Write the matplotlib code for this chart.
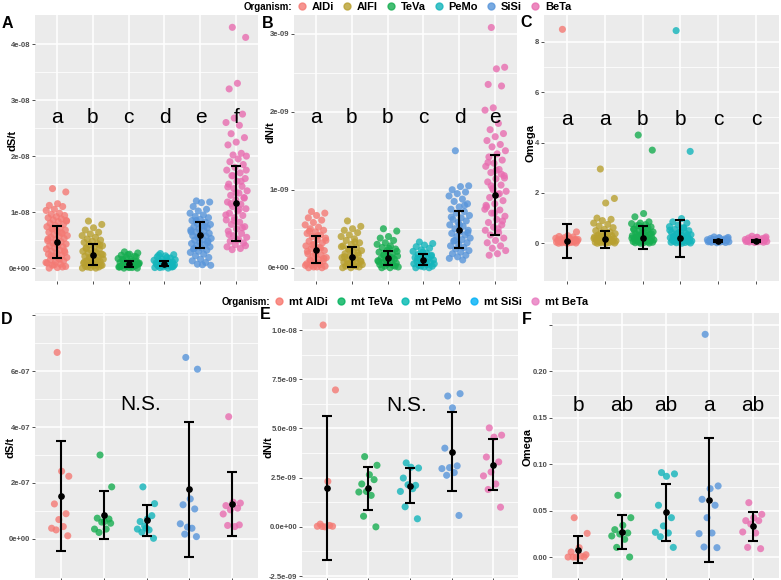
import matplotlib
matplotlib.use('Agg')
import matplotlib.pyplot as plt
from matplotlib.lines import Line2D
import numpy as np

plt.rcParams['font.family'] = ['Liberation Sans', 'DejaVu Sans']

# ---- top row (nuclear genes) ----
top_names = ['AlDi', 'AlFl', 'TeVa', 'PeMo', 'SiSi', 'BeTa']
top_colors = ['#F47A74', '#B8A030', '#16AD50', '#13B5BB', '#5895DA', '#E86DB0']

# dS/t, units of 1e-8
A_vals = [
    [1.42, 1.36, 1.15, 1.12, 1.10, 1.05, 1.03, 0.98, 0.96, 0.94, 0.92, 0.90, 0.88, 0.86, 0.84, 0.83, 0.80, 0.78,
     0.76, 0.74, 0.72, 0.70, 0.68, 0.66, 0.64, 0.62, 0.60, 0.58, 0.57, 0.55, 0.53, 0.51, 0.49, 0.47, 0.45, 0.43,
     0.41, 0.40, 0.38, 0.36, 0.34, 0.32, 0.30, 0.28, 0.27, 0.25, 0.23, 0.21, 0.19, 0.17, 0.15, 0.13, 0.11, 0.09,
     0.07, 0.05, 0.03, 0.01, 0.00, 0.02, 0.06, 0.10, 0.16, 0.22, 0.31, 0.44, 0.52, 0.63, 0.71, 0.85],
    [0.84, 0.78, 0.72, 0.68, 0.64, 0.61, 0.58, 0.55, 0.52, 0.50, 0.48, 0.46, 0.44, 0.42, 0.40, 0.38, 0.36, 0.34,
     0.32, 0.30, 0.28, 0.27, 0.25, 0.23, 0.21, 0.20, 0.18, 0.16, 0.15, 0.13, 0.12, 0.10, 0.09, 0.07, 0.06, 0.05,
     0.04, 0.03, 0.02, 0.01, 0.00, 0.00, 0.02, 0.05, 0.08, 0.11, 0.14, 0.19, 0.24, 0.29, 0.35, 0.41],
    [0.29, 0.27, 0.25, 0.23, 0.21, 0.19, 0.17, 0.15, 0.14, 0.12, 0.11, 0.10, 0.09, 0.08, 0.07, 0.06, 0.05, 0.04,
     0.03, 0.02, 0.01, 0.00, 0.00, 0.01, 0.03, 0.05, 0.07, 0.09, 0.12, 0.16, 0.20, 0.24, 0.02, 0.04, 0.06, 0.08],
    [0.26, 0.24, 0.22, 0.20, 0.18, 0.16, 0.14, 0.13, 0.12, 0.11, 0.10, 0.09, 0.08, 0.07, 0.06, 0.05, 0.04, 0.03,
     0.02, 0.01, 0.00, 0.01, 0.03, 0.05, 0.07, 0.09, 0.11, 0.15, 0.19, 0.23, 0.02, 0.06],
    [1.20, 1.18, 1.17, 1.10, 1.05, 1.02, 0.98, 0.95, 0.92, 0.90, 0.87, 0.85, 0.82, 0.80, 0.78, 0.76, 0.74, 0.72,
     0.70, 0.68, 0.66, 0.64, 0.62, 0.60, 0.58, 0.57, 0.55, 0.53, 0.51, 0.50, 0.48, 0.46, 0.44, 0.42, 0.40, 0.38,
     0.36, 0.34, 0.32, 0.30, 0.28, 0.25, 0.22, 0.19, 0.16, 0.13, 0.10, 0.07, 0.05, 0.06, 0.35, 0.45, 0.55, 0.65,
     0.75, 0.85],
    [4.30, 4.12, 3.30, 3.20, 2.75, 2.68, 2.60, 2.55, 2.40, 2.33, 2.25, 2.20, 2.05, 2.02, 2.00, 1.95, 1.90, 1.85,
     1.80, 1.75, 1.70, 1.65, 1.60, 1.55, 1.50, 1.46, 1.42, 1.38, 1.34, 1.30, 1.26, 1.22, 1.18, 1.14, 1.10, 1.06,
     1.02, 0.98, 0.94, 0.90, 0.86, 0.82, 0.78, 0.74, 0.70, 0.66, 0.62, 0.58, 0.55, 0.52, 0.48, 0.45, 0.42, 0.38,
     0.35, 0.33, 0.40, 0.50, 0.60, 0.72, 0.85, 0.95, 1.05, 1.15, 1.25, 1.35, 1.45, 1.55, 1.65, 1.75],
]
A_mean = [0.47, 0.24, 0.08, 0.08, 0.59, 1.16]
A_sd = [0.29, 0.19, 0.055, 0.04, 0.235, 0.67]
A_letters = ['a', 'b', 'c', 'd', 'e', 'f']

# dN/t, units of 1e-9
B_vals = [
    [0.72, 0.70, 0.67, 0.64, 0.61, 0.58, 0.55, 0.52, 0.50, 0.48, 0.46, 0.44, 0.42, 0.40, 0.38, 0.36, 0.34, 0.32,
     0.30, 0.28, 0.26, 0.24, 0.22, 0.20, 0.18, 0.16, 0.15, 0.13, 0.11, 0.10, 0.08, 0.07, 0.05, 0.04, 0.03, 0.02,
     0.01, 0.00, 0.00, 0.01, 0.03, 0.06, 0.09, 0.12, 0.17, 0.21, 0.25, 0.29, 0.35, 0.41, 0.47],
    [0.60, 0.53, 0.50, 0.48, 0.45, 0.42, 0.40, 0.37, 0.35, 0.32, 0.30, 0.28, 0.26, 0.24, 0.22, 0.20, 0.18, 0.16,
     0.15, 0.13, 0.12, 0.10, 0.09, 0.08, 0.07, 0.06, 0.05, 0.04, 0.03, 0.02, 0.01, 0.00, 0.00, 0.02, 0.05, 0.08,
     0.11, 0.14, 0.19, 0.23, 0.27, 0.33],
    [0.50, 0.47, 0.40, 0.38, 0.35, 0.32, 0.30, 0.28, 0.26, 0.24, 0.22, 0.20, 0.18, 0.17, 0.15, 0.14, 0.12, 0.11,
     0.10, 0.09, 0.08, 0.07, 0.06, 0.05, 0.04, 0.03, 0.02, 0.01, 0.00, 0.00, 0.02, 0.05, 0.08, 0.13, 0.16, 0.21,
     0.25],
    [0.33, 0.31, 0.29, 0.27, 0.25, 0.23, 0.21, 0.19, 0.17, 0.16, 0.14, 0.13, 0.12, 0.11, 0.10, 0.09, 0.08, 0.07,
     0.06, 0.05, 0.04, 0.03, 0.02, 0.01, 0.00, 0.00, 0.02, 0.05, 0.08, 0.12, 0.15, 0.20],
    [1.50, 1.05, 1.04, 1.00, 0.97, 0.95, 0.92, 0.88, 0.85, 0.82, 0.78, 0.75, 0.72, 0.70, 0.67, 0.64, 0.62, 0.60,
     0.58, 0.55, 0.53, 0.50, 0.48, 0.46, 0.44, 0.42, 0.40, 0.38, 0.36, 0.34, 0.32, 0.30, 0.28, 0.26, 0.24, 0.22,
     0.20, 0.18, 0.16, 0.14, 0.12, 0.10, 0.35, 0.45, 0.55, 0.65, 0.80],
    [3.08, 2.57, 2.55, 2.35, 2.33, 2.05, 2.02, 1.85, 1.77, 1.72, 1.68, 1.63, 1.58, 1.55, 1.50, 1.46, 1.42, 1.38,
     1.34, 1.30, 1.26, 1.22, 1.18, 1.14, 1.10, 1.06, 1.02, 0.98, 0.94, 0.90, 0.86, 0.82, 0.78, 0.74, 0.70, 0.66,
     0.62, 0.58, 0.55, 0.52, 0.48, 0.45, 0.42, 0.38, 0.35, 0.32, 0.28, 0.25, 0.22, 0.18, 0.16, 0.60, 0.70, 0.80,
     0.95, 1.05, 1.15, 1.25, 1.35, 1.20, 1.00, 0.75, 0.50],
]
B_mean = [0.23, 0.14, 0.12, 0.10, 0.49, 0.93]
B_sd = [0.175, 0.13, 0.09, 0.07, 0.24, 0.515]
B_letters = ['a', 'b', 'b', 'c', 'd', 'e']

# Omega
C_vals = [
    [8.50, 0.45, 0.30, 0.27, 0.25, 0.22, 0.20, 0.18, 0.16, 0.15, 0.13, 0.12, 0.11, 0.10, 0.09, 0.08, 0.07, 0.06,
     0.05, 0.04, 0.03, 0.02, 0.01, 0.00, 0.00, 0.05, 0.10, 0.15, 0.20, 0.08, 0.12, 0.03],
    [2.95, 1.78, 1.60, 1.00, 0.95, 0.90, 0.80, 0.75, 0.68, 0.62, 0.55, 0.50, 0.45, 0.42, 0.38, 0.35, 0.32, 0.30,
     0.27, 0.25, 0.22, 0.20, 0.18, 0.16, 0.14, 0.12, 0.10, 0.09, 0.08, 0.07, 0.06, 0.05, 0.04, 0.03, 0.02, 0.01,
     0.00, 0.00, 0.11, 0.15, 0.19, 0.24, 0.28],
    [4.30, 3.70, 1.18, 1.05, 0.85, 0.80, 0.78, 0.74, 0.70, 0.65, 0.60, 0.56, 0.52, 0.48, 0.45, 0.42, 0.39, 0.36,
     0.33, 0.30, 0.28, 0.25, 0.23, 0.21, 0.19, 0.17, 0.15, 0.13, 0.12, 0.10, 0.09, 0.08, 0.07, 0.06, 0.05, 0.04,
     0.03, 0.02, 0.01, 0.00, 0.20, 0.26, 0.31, 0.38, 0.44, 0.55, 0.62, 0.70],
    [8.45, 3.65, 0.98, 0.85, 0.80, 0.72, 0.66, 0.60, 0.55, 0.50, 0.46, 0.43, 0.40, 0.37, 0.34, 0.31, 0.28, 0.26,
     0.24, 0.22, 0.20, 0.18, 0.16, 0.14, 0.12, 0.11, 0.10, 0.09, 0.08, 0.07, 0.06, 0.05, 0.04, 0.03, 0.02, 0.01,
     0.00, 0.25, 0.33, 0.41, 0.52, 0.62],
    [0.25, 0.23, 0.21, 0.19, 0.17, 0.15, 0.14, 0.13, 0.12, 0.11, 0.10, 0.09, 0.08, 0.07, 0.06, 0.05, 0.04, 0.03,
     0.02, 0.06, 0.10, 0.14, 0.18, 0.22, 0.08, 0.12],
    [0.28, 0.25, 0.23, 0.21, 0.19, 0.17, 0.15, 0.14, 0.13, 0.12, 0.11, 0.10, 0.09, 0.08, 0.07, 0.06, 0.05, 0.04,
     0.03, 0.07, 0.11, 0.15, 0.19, 0.24, 0.09, 0.13],
]
C_mean = [0.10, 0.15, 0.22, 0.20, 0.08, 0.09]
C_sd = [0.67, 0.32, 0.46, 0.73, 0.05, 0.05]
C_letters = ['a', 'a', 'b', 'b', 'c', 'c']

# ---- bottom row (mitochondrial genes) ----
bot_names = ['mt AlDi', 'mt TeVa', 'mt PeMo', 'mt SiSi', 'mt BeTa']
bot_colors = ['#F47A74', '#16AD50', '#13B5BB', '#5895DA', '#E86DB0']
bot_legend_colors = ['#F8766D', '#00B25C', '#00B8B0', '#00B0F6', '#E87BC0']

# dS/t, units of 1e-7
D_vals = [
    [6.67, 2.24, 2.42, 1.25, 0.90, 0.69, 0.38, 0.44, 0.32, 0.11],
    [3.00, 1.86, 0.62, 0.74, 0.71, 0.60, 0.35, 0.35, 0.23, 0.56],
    [1.86, 1.26, 0.71, 0.62, 0.83, 0.46, 0.35, 0.32, 0.24, 0.02, 0.38],
    [6.49, 6.07, 1.43, 1.22, 1.07, 0.42, 0.54, 0.38, 0.17, 0.08],
    [4.37, 1.28, 1.31, 1.19, 1.10, 1.04, 0.89, 0.44, 0.48, 0.50],
]
D_mean = [1.52, 0.87, 0.66, 1.77, 1.26]
D_sd = [1.97, 0.86, 0.545, 2.42, 1.14]

# dN/t, units of 1e-9
E_vals = [
    [10.26, 6.96, 2.31, 0.14, 0.03, 0.00, 0.03, 0.07, 0.02],
    [3.57, 3.13, 2.65, 2.18, 2.40, 1.80, 1.77, 1.60, 0.54, 0.00],
    [3.25, 2.99, 3.03, 2.48, 2.11, 2.14, 1.80, 1.94, 1.02, 0.41],
    [6.65, 6.77, 6.05, 4.00, 3.10, 3.01, 2.96, 2.76, 2.62, 0.58],
    [5.03, 4.66, 4.56, 3.55, 3.30, 2.79, 2.59, 2.18, 1.90, 1.00],
]
E_mean = [1.96, 1.96, 2.09, 3.83, 3.15]
E_sd = [3.67, 1.08, 0.90, 2.01, 1.29]

# Omega
F_vals = [
    [0.0424, 0.0255, 0.0101, 0.0054, 0.0, 0.0, 0.0, 0.001, 0.0, 0.0025],
    [0.0665, 0.0424, 0.0342, 0.0295, 0.0259, 0.0248, 0.0227, 0.0191, 0.0104, 0.0],
    [0.0910, 0.0896, 0.0870, 0.0558, 0.0424, 0.0335, 0.0266, 0.0259, 0.0219, 0.0104],
    [0.2400, 0.0766, 0.0737, 0.0622, 0.0558, 0.0424, 0.0252, 0.0259, 0.0108, 0.0101],
    [0.0586, 0.0460, 0.0424, 0.0392, 0.0392, 0.0356, 0.0270, 0.0259, 0.0104, 0.0090],
]
F_mean = [0.008, 0.027, 0.048, 0.0615, 0.033]
F_sd = [0.0145, 0.018, 0.0305, 0.0665, 0.0155]
F_letters = ['b', 'ab', 'ab', 'a', 'ab']

W, H = 781, 580
fig = plt.figure(figsize=(W / 100, H / 100), dpi=100)


def box(x0, y0, x1, y1):
    return [x0 / W, 1 - y1 / H, (x1 - x0) / W, (y1 - y0) / H]


def jitter(n, width):
    # deterministic spread of points across the category
    return ((np.arange(n) * 0.618034 + 0.31) % 1 - 0.5) * 2 * width


def draw_panel(ax, vals, scale, colors, mean, sd, ylim, yticks, yticklabels, ylabel, width, label_xy):
    ax.set_facecolor('#EBEBEB')
    ax.set_axisbelow(True)
    n = len(vals)
    for i, (v, c) in enumerate(zip(vals, colors)):
        y = np.array(v) * scale
        ax.scatter(i + 1 + jitter(len(y), width), y, s=26, color=c, alpha=0.8,
                   edgecolors='none', zorder=2)
    x = np.arange(1, n + 1)
    ax.errorbar(x, np.array(mean) * scale, yerr=np.array(sd) * scale, fmt='o', color='black',
                ms=3.8, capsize=3.5, elinewidth=1.5, capthick=1.5, zorder=3)
    ax.set_xlim(0.4, n + 0.6)
    ax.set_ylim(ylim[0] * scale, ylim[1] * scale)
    yt = np.array(yticks) * scale
    ax.set_yticks(yt)
    ax.set_yticklabels(yticklabels)
    ax.set_yticks((yt[:-1] + yt[1:]) / 2, minor=True)
    ax.set_xticks(x)
    ax.set_xticklabels([''] * n)
    ax.grid(which='major', color='white', lw=1.1)
    ax.grid(which='minor', axis='y', color='white', lw=0.55)
    for s in ax.spines.values():
        s.set_visible(False)
    ax.tick_params(axis='both', which='major', length=2.5, width=0.6, color='#333333',
                   labelsize=5.5, labelcolor='#4D4D4D', pad=1)
    ax.tick_params(which='minor', length=0)
    for t in ax.get_yticklabels():
        t.set_fontweight('bold')
    ax.set_ylabel(ylabel, fontsize=8, fontweight='bold')
    ax.yaxis.set_label_coords(*label_xy)


def add_letters(ax, letters, y):
    for i, l in enumerate(letters):
        ax.text(i + 1, y, l, ha='center', va='baseline', fontsize=15, color='black')


axA = fig.add_axes(box(35, 15, 258, 281))
draw_panel(axA, A_vals, 1e-8, top_colors, A_mean, A_sd, (-0.23, 4.52), [0, 1, 2, 3, 4],
           ['0e+00', '1e-08', '2e-08', '3e-08', '4e-08'], 'dS/t', 0.3, (-0.08, 0.53))
add_letters(axA, A_letters, 2.59e-8)

axB = fig.add_axes(box(294, 15, 517, 281))
draw_panel(axB, B_vals, 1e-9, top_colors, B_mean, B_sd, (-0.17, 3.24), [0, 1, 2, 3],
           ['0e+00', '1e-09', '2e-09', '3e-09'], 'dN/t', 0.3, (-0.085, 0.56))
add_letters(axB, B_letters, 1.85e-9)

axC = fig.add_axes(box(544, 15, 779, 281))
draw_panel(axC, C_vals, 1.0, top_colors, C_mean, C_sd, (-1.5, 9.07), [0, 2, 4, 6, 8],
           ['0', '2', '4', '6', '8'], 'Omega', 0.3, (-0.038, 0.52))
add_letters(axC, C_letters, 4.71)

axD = fig.add_axes(box(35, 313, 258, 578))
draw_panel(axD, D_vals, 1e-7, bot_colors, D_mean, D_sd, (-1.4, 8.08), [0, 2, 4, 6, 8],
           ['0e+00', '2e-07', '4e-07', '6e-07', ''], 'dS/t', 0.22, (-0.088, 0.494))
axD.text(2.87, 4.6e-7, 'N.S.', ha='center', va='baseline', fontsize=15)

axE = fig.add_axes(box(302, 313, 518, 578))
draw_panel(axE, E_vals, 1e-9, bot_colors, E_mean, E_sd, (-2.6, 10.87), [-2.5, 0, 2.5, 5, 7.5, 10],
           ['-2.5e-09', '0.0e+00', '2.5e-09', '5.0e-09', '7.5e-09', '1.0e-08'], 'dN/t', 0.24, (-0.13, 0.494))
axE.text(2.93, 5.87e-9, 'N.S.', ha='center', va='baseline', fontsize=15)

axF = fig.add_axes(box(552, 313, 779, 578))
draw_panel(axF, F_vals, 1.0, bot_colors, F_mean, F_sd, (-0.0226, 0.263), [0, 0.05, 0.10, 0.15, 0.20, 0.25],
           ['0.00', '0.05', '0.10', '0.15', '0.20', ''], 'Omega', 0.24, (-0.084, 0.494))
add_letters(axF, F_letters, 0.157)

# panel tags
for tag, px, py in [('A', 2, 28), ('B', 262, 28), ('C', 520, 27), ('D', 1, 324), ('E', 260, 319), ('F', 522, 324)]:
    fig.text(px / W, 1 - py / H, tag, fontsize=11.5, fontweight='bold', va='baseline', ha='left')

# legends
fig.text(244 / W, 1 - 7 / H, 'Organism:', fontsize=7, fontweight='bold', va='center', ha='left')
top_handles = [Line2D([], [], ls='', marker='o', ms=5, color=c, alpha=0.8) for c in top_colors]
fig.legend(top_handles, top_names, loc='center left', bbox_to_anchor=(297 / W, 1 - 7 / H), ncol=6,
           frameon=False, handlelength=0.9, handletextpad=0.45, columnspacing=0.7, borderpad=0,
           borderaxespad=0, prop={'size': 8, 'weight': 'bold'})

fig.text(222 / W, 1 - 302 / H, 'Organism:', fontsize=7, fontweight='bold', va='center', ha='left')
bot_handles = [Line2D([], [], ls='', marker='o', ms=5, color=c, alpha=0.8) for c in bot_legend_colors]
fig.legend(bot_handles, bot_names, loc='center left', bbox_to_anchor=(274 / W, 1 - 302 / H), ncol=5,
           frameon=False, handlelength=0.9, handletextpad=0.45, columnspacing=0.7, borderpad=0,
           borderaxespad=0, prop={'size': 8, 'weight': 'bold'})

fig.savefig('out.png', dpi=100)
